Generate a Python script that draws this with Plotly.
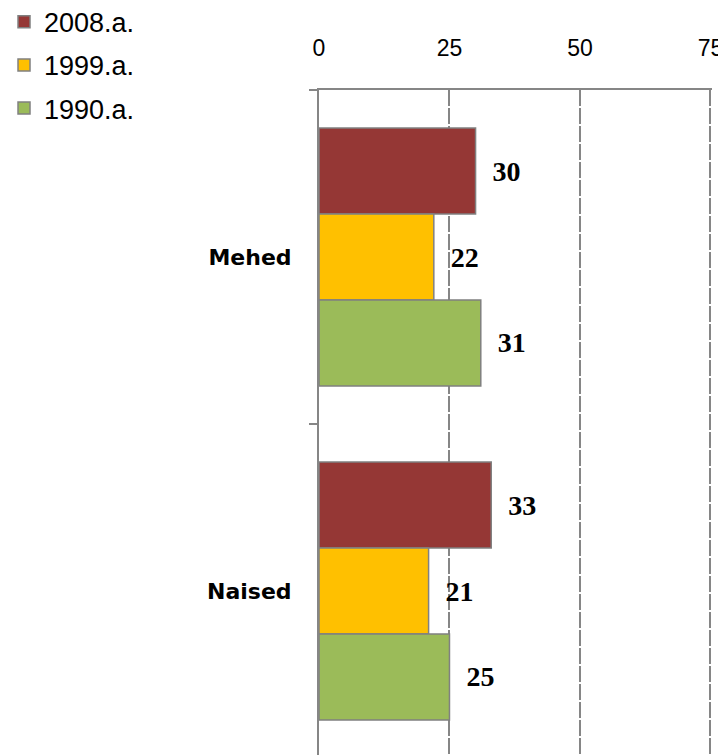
import plotly.graph_objects as go

categories = ["Mehed", "Naised"]
series_names = ["2008.a.", "1999.a.", "1990.a."]
values_2008 = [30, 33]
values_1999 = [22, 21]
values_1990 = [31, 25]
x_ticks = [0, 25, 50, 75]

series_values = [values_2008, values_1999, values_1990]
colors = ["#953735", "#FFC000", "#9BBB59"]

fig = go.Figure()
for i, (name, vals, col) in enumerate(zip(series_names, series_values, colors)):
    fig.add_trace(go.Bar(
        y=categories, x=vals, name=name, orientation="h",
        marker=dict(color=col, line=dict(color="#808080", width=1.5)),
        texttemplate="\u00a0\u00a0%{x}", textposition="outside",
        textfont=dict(family="Liberation Serif", size=28, color="black", weight="bold"),
        constraintext="none", cliponaxis=False,
        legendgroup=name,
    ))

fig.update_layout(
    width=726, height=755,
    margin=dict(l=311, r=22, t=82, b=5, autoexpand=False),
    paper_bgcolor="white", plot_bgcolor="white",
    barmode="group", bargap=0.228, bargroupgap=0,
    showlegend=True,
    legend=dict(
        xref="paper", yref="paper", x=-0.8015, y=1.138,
        xanchor="left", yanchor="top",
        font=dict(family="Liberation Sans", size=27, color="black"),
        tracegroupgap=5, bgcolor="rgba(0,0,0,0)",
    ),
    xaxis=dict(
        side="top", range=[0, 75.3], tickvals=x_ticks,
        showline=True, linecolor="#868686", linewidth=2,
        showgrid=True, gridcolor="#868686", gridwidth=2, griddash="16px,2px",
        zeroline=False, ticks="", ticklabelstandoff=23,
        tickfont=dict(family="Liberation Sans", size=23, color="black"),
    ),
    yaxis=dict(
        type="category", categoryorder="array", categoryarray=categories,
        range=[1.5, -0.5], tickson="boundaries",
        showline=True, linecolor="#868686", linewidth=2,
        showgrid=False, zeroline=False,
        ticks="outside", ticklen=8, tickcolor="#868686", tickwidth=2,
        ticklabelstandoff=21,
        tickfont=dict(family="DejaVu Sans", size=22, color="black", weight="bold"),
    ),
)

fig.write_html("out.html")
